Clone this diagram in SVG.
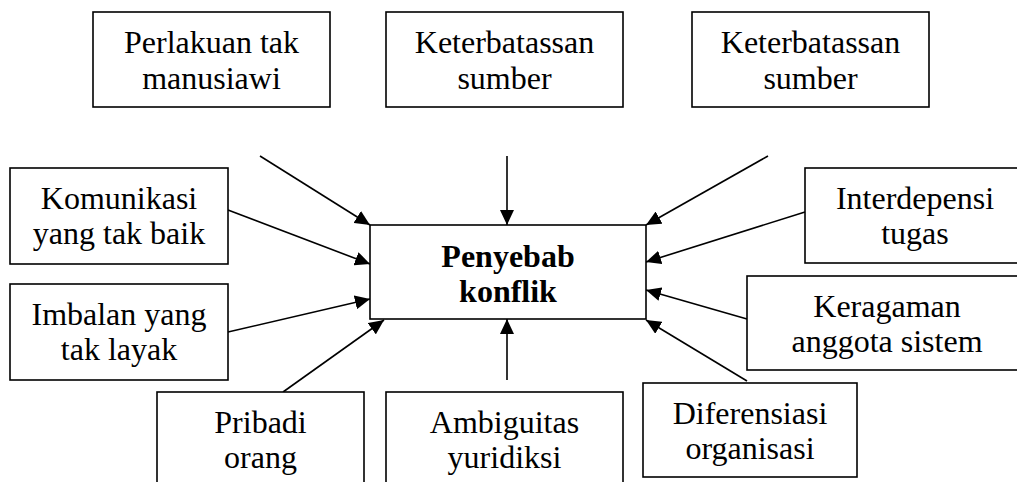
<svg xmlns="http://www.w3.org/2000/svg" width="1017" height="482" viewBox="0 0 1017 482">
<style>
rect.box{fill:#fff;stroke:#000;stroke-width:1.6}
text{font-family:"Liberation Serif","Times New Roman",serif;font-size:32px;fill:#000;text-anchor:middle}
text.b{font-weight:bold}
.c line{stroke:#000;stroke-width:1.6;marker-end:url(#ah)}
</style>
<defs>
<marker id="ah" markerUnits="userSpaceOnUse" markerWidth="16" markerHeight="14" refX="15" refY="7" orient="auto">
<path d="M0,0 L15,7 L0,14 Z" fill="#000"/>
</marker>
</defs>
<rect width="1017" height="482" fill="#fff"/>
<g id="connectors" class="c">
<line x1="260" y1="156" x2="370" y2="225"/>
<line x1="507" y1="156" x2="507" y2="225"/>
<line x1="768" y1="156" x2="646" y2="225"/>
<line x1="228" y1="210" x2="370" y2="264"/>
<line x1="228" y1="332" x2="370" y2="299"/>
<line x1="283" y1="392" x2="384" y2="320"/>
<line x1="507" y1="380" x2="507" y2="319"/>
<line x1="805" y1="212" x2="646" y2="262"/>
<line x1="747" y1="319" x2="646" y2="290"/>
<line x1="747" y1="381" x2="646" y2="320"/>
</g>
<g id="center">
<rect class="box" x="370" y="225" width="276" height="94"/>
<text class="b" x="508" y="267">Penyebab</text>
<text class="b" x="508" y="302">konflik</text>
</g>
<g id="perlakuan">
<rect class="box" x="93" y="12" width="237" height="95"/>
<text x="211.5" y="53">Perlakuan tak</text>
<text x="211.5" y="89">manusiawi</text>
</g>
<g id="keterbatasan1">
<rect class="box" x="386" y="12" width="237" height="95"/>
<text x="504.5" y="53">Keterbatassan</text>
<text x="504.5" y="89">sumber</text>
</g>
<g id="keterbatasan2">
<rect class="box" x="692" y="12" width="237" height="95"/>
<text x="810.5" y="53">Keterbatassan</text>
<text x="810.5" y="89">sumber</text>
</g>
<g id="komunikasi">
<rect class="box" x="10" y="168" width="218" height="96"/>
<text x="119" y="209">Komunikasi</text>
<text x="119" y="244">yang tak baik</text>
</g>
<g id="imbalan">
<rect class="box" x="10" y="284" width="218" height="96"/>
<text x="119" y="325">Imbalan yang</text>
<text x="119" y="360">tak layak</text>
</g>
<g id="interdepensi">
<rect class="box" x="805" y="168" width="220" height="95"/>
<text x="915" y="209">Interdepensi</text>
<text x="915" y="244">tugas</text>
</g>
<g id="keragaman">
<rect class="box" x="747" y="276" width="280" height="94"/>
<text x="887" y="317">Keragaman</text>
<text x="887" y="352">anggota sistem</text>
</g>
<g id="pribadi">
<rect class="box" x="157" y="392" width="207" height="100"/>
<text x="260.5" y="433">Pribadi</text>
<text x="260.5" y="468">orang</text>
</g>
<g id="ambiguitas">
<rect class="box" x="386" y="392" width="237" height="100"/>
<text x="504.5" y="433">Ambiguitas</text>
<text x="504.5" y="468">yuridiksi</text>
</g>
<g id="diferensiasi">
<rect class="box" x="643" y="383" width="214" height="94"/>
<text x="750" y="424">Diferensiasi</text>
<text x="750" y="459">organisasi</text>
</g>
</svg>
